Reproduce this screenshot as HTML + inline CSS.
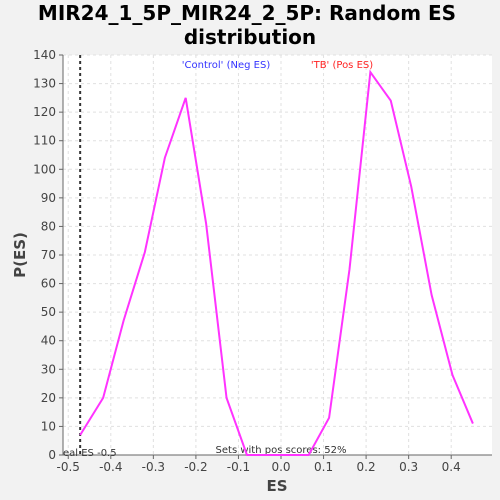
<!DOCTYPE html>
<html><head><meta charset="utf-8"><style>
body{margin:0;background:#f2f2f2;font-family:"DejaVu Sans","Liberation Sans",sans-serif}
svg{display:block}
</style></head><body>
<svg id="c" width="500" height="500" xmlns="http://www.w3.org/2000/svg" font-family="DejaVu Sans, Liberation Sans, sans-serif">
<rect width="500" height="500" fill="#f2f2f2"/>
<text x="247" y="20" font-size="20" font-weight="bold" text-anchor="middle" fill="#000">MIR24_1_5P_MIR24_2_5P: Random ES</text>
<text x="250" y="44" font-size="20" font-weight="bold" text-anchor="middle" fill="#000">distribution</text>
<rect x="63" y="55" width="429" height="400" fill="#fff"/>
<g id="grid"></g><g id="axes"></g>
<text x="226" y="68" font-size="10" fill="#3333ff" text-anchor="middle">'Control' (Neg ES)</text>
<text x="342" y="68" font-size="10" fill="#ff2222" text-anchor="middle">'TB' (Pos ES)</text>
<text x="281" y="453" font-size="10" fill="#333" text-anchor="middle">Sets with pos scores: 52%</text>
<text x="63" y="456" font-size="10" fill="#333">eal ES -0.5</text>
<text x="277" y="491" font-size="15" font-weight="bold" fill="#444" text-anchor="middle">ES</text>
<text x="25" y="255" font-size="15" font-weight="bold" fill="#444" text-anchor="middle" transform="rotate(-90 25 255)">P(ES)</text>
</svg>
<script>
const xs=[-0.472,-0.418,-0.37,-0.32,-0.273,-0.224,-0.176,-0.128,-0.08,-0.031,0.017,0.065,0.113,0.161,0.21,0.258,0.306,0.354,0.403,0.451];
const ys=[7,20,47,71,104,125,81,20,0,0,0,0,13,65,134,124,94,56,28,11];
const xTicks=[-0.5,-0.4,-0.3,-0.2,-0.1,0.0,0.1,0.2,0.3,0.4];
const xTickLabels=["-0.5","-0.4","-0.3","-0.2","-0.1","0.0","0.1","0.2","0.3","0.4"];
const yTicks=[0,10,20,30,40,50,60,70,80,90,100,110,120,130,140];
const realES=-0.472;
const X=v=>281+v*425.5, Y=v=>455-v*400/140;
const NS="http://www.w3.org/2000/svg",svg=document.getElementById('c');
const grid=document.getElementById('grid'),axes=document.getElementById('axes');
function mk(t,a,p){const e=document.createElementNS(NS,t);for(const k in a)e.setAttribute(k,a[k]);(p||svg).appendChild(e);return e;}
xTicks.forEach((v,i)=>{
 const g=mk('line',{x1:X(v),x2:X(v),y1:55,y2:455,stroke:'#e0e0e0','stroke-dasharray':'3,3'},grid);
 
 
 const t=mk('line',{x1:X(v),x2:X(v),y1:455,y2:459,stroke:'#666'},axes);
 
 
 const l=mk('text',{x:X(v),y:471,'font-size':12,fill:'#444','text-anchor':'middle'},axes);l.textContent=xTickLabels[i];
 
 
});
yTicks.forEach(v=>{
 const g=mk('line',{x1:63,x2:492,y1:Y(v),y2:Y(v),stroke:'#e0e0e0','stroke-dasharray':'3,3'},grid);
 
 
 const t=mk('line',{x1:59,x2:63,y1:Y(v),y2:Y(v),stroke:'#666'},axes);
 
 
 const l=mk('text',{x:56,y:Y(v)+4,'font-size':12,fill:'#444','text-anchor':'end'},axes);l.textContent=v;
 
 
});
const ax=mk('path',{d:'M63,55V455H492',fill:'none',stroke:'#666'},axes);


const rl=mk('line',{x1:X(realES),x2:X(realES),y1:55,y2:455,stroke:'#333','stroke-width':2,'stroke-dasharray':'3,3'});


const pl=mk('polyline',{points:xs.map((v,i)=>X(v)+','+Y(ys[i])).join(' '),fill:'none',stroke:'#ff33ff','stroke-width':2});


</script>
</body></html>
